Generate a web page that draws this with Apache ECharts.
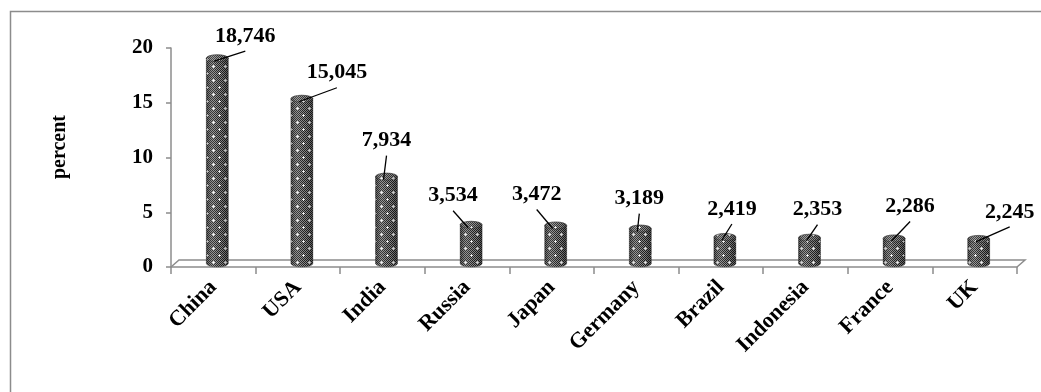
<!DOCTYPE html>
<html>
<head>
<meta charset="utf-8">
<script src="https://cdn.jsdelivr.net/npm/echarts@6/dist/echarts.min.js"></script>
<style>
  html, body { margin: 0; padding: 0; background: #ffffff; }
  #chart { width: 1041px; height: 392px; }
</style>
</head>
<body>
<div id="chart"></div>
<script>
// Share of world total by country (percent)
const countries = ['China', 'USA', 'India', 'Russia', 'Japan', 'Germany', 'Brazil', 'Indonesia', 'France', 'UK'];
const shares = [18.746, 15.045, 7.934, 3.534, 3.472, 3.189, 2.419, 2.353, 2.286, 2.245];
const yMin = 0;
const yMax = 20;
const yStep = 5;

// Callout placement: label centre relative to the top of its cylinder
const calloutOffsets = [[28, -22], [35, -26], [0, -36], [-18, -29], [-19, -31], [-1, -30], [7, -28], [8, -28], [16, -32], [31, -27]];

// Plot geometry
const GRID = { left: 171, right: 24, top: 48, bottom: 125 };
const DEPTH_X = 8;   // floor depth, horizontal
const DEPTH_Y = 7;   // floor depth, vertical
const BAR_W = 22;
const CAP_RY = 3.5;
const AXIS_GREY = '#8c8c8c';
const FONT = '"Liberation Serif", "Times New Roman", serif';

const fmt = v => v.toFixed(3).replace('.', ',');

// Fine dark checker with small white crosses, used to fill the cylinders
function makeTexture() {
  const w = 12, h = 14;
  const c = document.createElement('canvas');
  c.width = w; c.height = h;
  const g = c.getContext('2d');
  const img = g.createImageData(w, h);
  const set = (x, y, v) => {
    x = (x + w) % w; y = (y + h) % h;
    const k = (y * w + x) * 4;
    img.data[k] = img.data[k + 1] = img.data[k + 2] = v;
    img.data[k + 3] = 255;
  };
  for (let y = 0; y < h; y++) {
    for (let x = 0; x < w; x++) {
      set(x, y, (x + y) % 2 === 0 ? 30 : 140);
    }
  }
  [[3, 3], [9, 10]].forEach(([px, py]) => {
    set(px, py, 255);
    set(px - 1, py, 225); set(px + 1, py, 225);
    set(px, py - 1, 225); set(px, py + 1, 225);
  });
  g.putImageData(img, 0, 0);
  return c;
}
const texture = { image: makeTexture(), repeat: 'repeat' };

function renderCylinder(params, api) {
  const i = api.value(0);
  const v = api.value(1);
  const topPt = api.coord([i, v]);
  const basePt = api.coord([i, 0]);
  const cx = topPt[0] + DEPTH_X / 2;
  const ty = topPt[1] - DEPTH_Y / 2;
  const by = basePt[1] - DEPTH_Y / 2;
  const rx = BAR_W / 2, ry = CAP_RY;

  const body = `M${cx - rx},${ty} A${rx},${ry} 0 0 1 ${cx + rx},${ty} L${cx + rx},${by} A${rx},${ry} 0 0 1 ${cx - rx},${by} Z`;
  const cap = `M${cx - rx},${ty} A${rx},${ry} 0 1 1 ${cx + rx},${ty} A${rx},${ry} 0 1 1 ${cx - rx},${ty} Z`;

  const off = calloutOffsets[i] || [0, -30];
  const lx = cx + off[0];
  const ly = ty + off[1];

  return {
    type: 'group',
    children: [
      { type: 'path', shape: { pathData: body }, style: { fill: texture, stroke: 'rgba(60,60,60,0.6)', lineWidth: 0.6 } },
      {
        type: 'path', shape: { pathData: body },
        style: {
          fill: {
            type: 'linear', x: 0, y: 0, x2: 1, y2: 0,
            colorStops: [
              { offset: 0, color: 'rgba(0,0,0,0.35)' },
              { offset: 0.35, color: 'rgba(255,255,255,0.10)' },
              { offset: 0.7, color: 'rgba(0,0,0,0.05)' },
              { offset: 1, color: 'rgba(0,0,0,0.40)' }
            ]
          }
        }
      },
      { type: 'path', shape: { pathData: cap }, style: { fill: 'rgba(255,255,255,0.08)', stroke: 'rgba(40,40,40,0.55)', lineWidth: 0.8 } },
      {
        type: 'line', z2: 10,
        shape: { x1: cx - 3, y1: ty + 3, x2: lx, y2: ly + 15 },
        style: { stroke: '#000', lineWidth: 1.3 }
      },
      {
        type: 'text', z2: 11,
        style: {
          text: fmt(v), x: lx, y: ly,
          font: 'bold 22px ' + FONT, fill: '#000',
          align: 'center', verticalAlign: 'middle',
          textAlign: 'center', textVerticalAlign: 'middle'
        }
      }
    ]
  };
}

const chart = echarts.init(document.getElementById('chart'), null, { renderer: 'canvas' });

const W = 1041, H = 392;
const L = GRID.left, R = W - GRID.right, B = H - GRID.bottom;

chart.setOption({
  animation: false,
  backgroundColor: '#ffffff',
  grid: { left: GRID.left, right: GRID.right, top: GRID.top, bottom: GRID.bottom, outerBoundsMode: 'none', containLabel: false },
  xAxis: {
    type: 'category',
    data: countries,
    boundaryGap: true,
    axisLine: { show: true, lineStyle: { color: AXIS_GREY, width: 1.5 } },
    axisTick: { show: true, length: 7, lineStyle: { color: AXIS_GREY, width: 1.5 } },
    axisLabel: {
      interval: 0, rotate: 45, margin: 17,
      fontFamily: FONT, fontWeight: 'bold', fontSize: 22, color: '#000'
    },
    splitLine: { show: false }
  },
  yAxis: {
    type: 'value',
    min: yMin, max: yMax, interval: yStep,
    axisLine: { show: true, lineStyle: { color: AXIS_GREY, width: 1.5 } },
    axisTick: { show: true, length: 5, lineStyle: { color: AXIS_GREY, width: 1.5 } },
    axisLabel: { margin: 18, fontFamily: FONT, fontWeight: 'bold', fontSize: 21, color: '#000' },
    splitLine: { show: false }
  },
  graphic: [
    {
      type: 'rect', silent: true, z: -1,
      shape: { x: 10.5, y: 11.5, width: W, height: H },
      style: { fill: 'none', stroke: AXIS_GREY, lineWidth: 1.5 }
    },
    {
      type: 'polyline', silent: true, z: 0,
      shape: { points: [[L, B], [L + DEPTH_X, B - DEPTH_Y], [R + DEPTH_X, B - DEPTH_Y], [R, B]] },
      style: { fill: 'none', stroke: AXIS_GREY, lineWidth: 1.5 }
    },
    {
      type: 'text', silent: true,
      x: 60, y: 147, rotation: Math.PI / 2,
      style: {
        text: 'percent', font: 'bold 20px ' + FONT, fill: '#000',
        align: 'center', verticalAlign: 'middle',
        textAlign: 'center', textVerticalAlign: 'middle'
      }
    }
  ],
  series: [{
    type: 'custom',
    clip: false,
    renderItem: renderCylinder,
    encode: { x: 0, y: 1 },
    data: countries.map((c, i) => [i, shares[i]]),
    z: 5
  }]
});
</script>
</body>
</html>
